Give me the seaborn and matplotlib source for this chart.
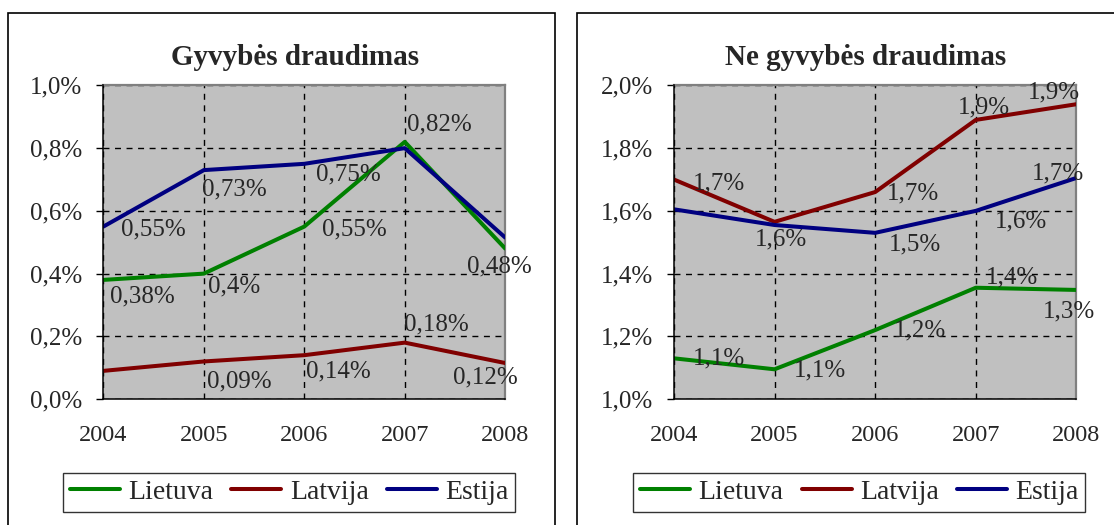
import matplotlib
matplotlib.use("Agg")
import matplotlib.pyplot as plt
from matplotlib.patches import Rectangle
from matplotlib.lines import Line2D
from matplotlib.ticker import FuncFormatter
import seaborn as sns
import pandas as pd

# data
years = [2004, 2005, 2006, 2007, 2008]
countries = ['Lietuva', 'Latvija', 'Estija']

life_lietuva = [0.38, 0.40, 0.55, 0.82, 0.48]
life_latvija = [0.09, 0.12, 0.14, 0.18, 0.115]
life_estija = [0.55, 0.73, 0.75, 0.80, 0.515]

nonlife_lietuva = [1.13, 1.095, 1.22, 1.355, 1.348]
nonlife_latvija = [1.70, 1.565, 1.66, 1.89, 1.94]
nonlife_estija = [1.605, 1.555, 1.53, 1.60, 1.705]

# data labels as printed on the chart (None = no label)
life_labels = {
    'Lietuva': ['0,38%', '0,4%', '0,55%', '0,82%', '0,48%'],
    'Latvija': ['0,09%', None, '0,14%', '0,18%', '0,12%'],
    'Estija': ['0,55%', '0,73%', '0,75%', None, None],
}
nonlife_labels = {
    'Lietuva': ['1,1%', '1,1%', '1,2%', '1,4%', '1,3%'],
    'Latvija': ['1,7%', None, '1,7%', '1,9%', '1,9%'],
    'Estija': [None, '1,6%', '1,5%', '1,6%', '1,7%'],
}

# label placement (pixels: left edge dx, vertical centre dy, +up)
life_offsets = {
    'Lietuva': [(7, -17), (4, -13), (18, -3), (2, 17), (-38, -18)],
    'Latvija': [(104, -11), None, (2, -16), (-1, 18), (-52, -14)],
    'Estija': [(18, -3), (-2, -19), (12, -11), None, None],
}
nonlife_offsets = {
    'Lietuva': [(19, 0), (19, -1), (19, 0), (10, 10), (-34, -22)],
    'Latvija': [(19, -4), None, (12, -1), (-18, 12), (-49, 12)],
    'Estija': [None, (-20, -14), (14, -12), (19, -11), (-45, 4)],
}

palette = {'Lietuva': '#008000', 'Latvija': '#800000', 'Estija': '#000080'}

life_df = pd.DataFrame({
    'year': years * 3,
    'value': life_lietuva + life_latvija + life_estija,
    'country': [c for c in countries for _ in years],
})
nonlife_df = pd.DataFrame({
    'year': years * 3,
    'value': nonlife_lietuva + nonlife_latvija + nonlife_estija,
    'country': [c for c in countries for _ in years],
})

sns.set_style('white')
plt.rcParams['font.family'] = ['Liberation Serif', 'DejaVu Serif']

fig = plt.figure(figsize=(11.14, 5.25), dpi=100)
fig.patch.set_facecolor('white')

W, H = 1114, 525
ax_left = fig.add_axes([103.4 / W, 1 - 399.1 / H, 401.8 / W, 313.7 / H])
ax_right = fig.add_axes([673.9 / W, 1 - 399.1 / H, 402.5 / W, 313.7 / H])

panels = [
    (ax_left, life_df, 'Gyvybės draudimas', (0.0, 1.0), life_labels, life_offsets),
    (ax_right, nonlife_df, 'Ne gyvybės draudimas', (1.0, 2.0), nonlife_labels, nonlife_offsets),
]

for ax, df, title, ylim, labels, offsets in panels:
    ax.set_facecolor('#C0C0C0')
    sns.lineplot(data=df, x='year', y='value', hue='country', hue_order=countries,
                 palette=palette, linewidth=2.9, legend=False, ax=ax, zorder=3)
    ax.set_xlim(years[0], years[-1])
    ax.set_ylim(*ylim)
    ax.set_xticks(years)
    ax.set_xticklabels([str(y) for y in years])
    ax.set_yticks([ylim[0] + i * 0.2 for i in range(6)])
    ax.yaxis.set_major_formatter(FuncFormatter(lambda v, p: f'{v:.1f}%'.replace('.', ',')))
    ax.set_xlabel('')
    ax.set_ylabel('')
    ax.grid(True, color='black', linestyle=(0, (4.3, 4)), linewidth=1.0, zorder=1)
    ax.set_axisbelow(True)
    ax.tick_params(axis='y', direction='out', length=5, width=1, color='black',
                   labelsize=18, pad=10, left=True)
    ax.tick_params(axis='x', length=0, labelsize=17.5, pad=19)
    for s in ['top', 'right']:
        ax.spines[s].set_color('#808080')
        ax.spines[s].set_linewidth(1.6)
    for s in ['left', 'bottom']:
        ax.spines[s].set_color('black')
        ax.spines[s].set_linewidth(1.1)
        ax.spines[s].set_zorder(5)

    ax.text(0.477, 1.064, title, transform=ax.transAxes, ha='center', va='baseline',
            fontsize=21, fontweight='bold')

    # data labels
    for c in countries:
        vals = df[df.country == c].value.tolist()
        for i, txt in enumerate(labels[c]):
            if txt is None:
                continue
            dx, dy = offsets[c][i]
            ax.annotate(txt, xy=(years[i], vals[i]), xytext=(dx, dy),
                        textcoords='offset pixels', ha='left', va='center',
                        fontsize=18, zorder=6, annotation_clip=False)

    # legend box under each panel
    handles = [Line2D([0], [0], color=palette[c], linewidth=2.9) for c in countries]
    x0 = (63.2 if ax is ax_left else 633.4) / W
    leg = ax.legend(handles, countries, loc='center', ncol=3, mode='expand',
                    bbox_to_anchor=(x0, 1 - 517.2 / H, 452 / W, 49.5 / H),
                    bbox_transform=fig.transFigure, fontsize=20, frameon=True,
                    fancybox=False, handlelength=1.8, handletextpad=0.3,
                    columnspacing=0.5, borderpad=0.25, borderaxespad=0)
    leg.get_frame().set_edgecolor('black')
    leg.get_frame().set_linewidth(1.0)

# outer chart frames
fig.add_artist(Rectangle((7.5 / W, -0.05), (555 - 7.5) / W, 0.05 + 1 - 13.4 / H,
                         transform=fig.transFigure, fill=False, edgecolor='black',
                         linewidth=1.2))
fig.add_artist(Rectangle((577 / W, -0.05), 0.6, 0.05 + 1 - 13.4 / H,
                         transform=fig.transFigure, fill=False, edgecolor='black',
                         linewidth=1.2))

fig.savefig('out.png', dpi=100, facecolor='white')
